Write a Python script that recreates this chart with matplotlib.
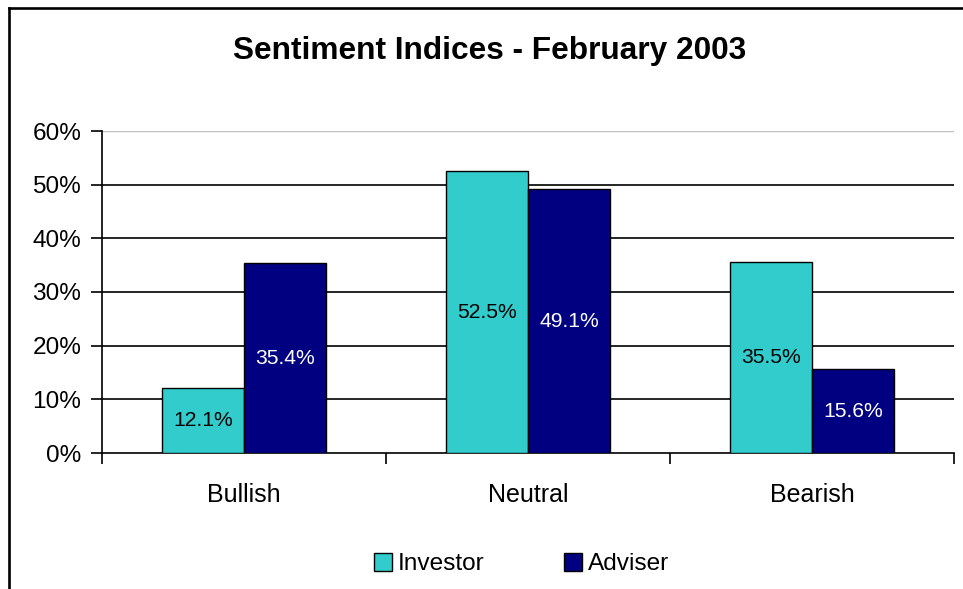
import matplotlib
matplotlib.use("Agg")
import matplotlib.pyplot as plt
import numpy as np
from matplotlib.lines import Line2D

categories = ["Bullish", "Neutral", "Bearish"]
investor = [12.1, 52.5, 35.5]
adviser = [35.4, 49.1, 15.6]
yticks = [0, 10, 20, 30, 40, 50, 60]

plt.rcParams['font.family'] = ['Liberation Sans', 'DejaVu Sans']

W, H = 963, 589
fig = plt.figure(figsize=(W/100, H/100), dpi=100)
ax = fig.add_axes([102/W, 1 - 453/H, (954-102)/W, (453-131)/H])

x = np.arange(len(categories))
bw = 0.288
b1 = ax.bar(x - bw/2, investor, bw, color="#33CCCC", edgecolor="black", linewidth=1.0, label="Investor", zorder=3)
b2 = ax.bar(x + bw/2, adviser, bw, color="#000080", edgecolor="black", linewidth=1.0, label="Adviser", zorder=3)

for rect, v in zip(b1, investor):
    ax.text(rect.get_x() + rect.get_width()/2, v/2, f"{v:.1f}%", ha="center", va="center",
            fontsize=15.2, color="black", zorder=4)
for rect, v in zip(b2, adviser):
    ax.text(rect.get_x() + rect.get_width()/2, v/2, f"{v:.1f}%", ha="center", va="center",
            fontsize=15.2, color="white", zorder=4)

ax.set_xlim(-0.5, 2.5)
ax.set_ylim(0, 60)
ax.set_yticks(yticks)
ax.set_yticklabels([f"{t}%" for t in yticks], fontsize=17.6)
for t in yticks[1:-1]:
    ax.axhline(t, color="black", linewidth=1.2, zorder=1)
ax.axhline(60, color="#c0c0c0", linewidth=1.0, zorder=1)

ax.set_xticks([-0.5, 0.5, 1.5, 2.5], minor=False)
ax.set_xticklabels([])
ax.set_xticks(x, minor=True)
ax.set_xticklabels(categories, minor=True, fontsize=18)
ax.tick_params(axis="x", which="minor", length=0, pad=21.5)
ax.tick_params(axis="x", which="major", direction="out", length=8, width=1.2)
ax.tick_params(axis="y", direction="out", length=8, width=1.2, pad=7)

for s in ["top", "right"]:
    ax.spines[s].set_visible(False)
ax.spines["left"].set_linewidth(1.2)
ax.spines["bottom"].set_linewidth(1.2)

fig.text(490/W, 1 - 50.5/H, "Sentiment Indices - February 2003", ha="center", va="center",
         fontsize=22.8, fontweight="bold")

leg = fig.legend(handles=[b1, b2], labels=["Investor", "Adviser"], loc="center",
                 bbox_to_anchor=(521.5/W, 1 - 564/H), ncol=2, frameon=False, fontsize=17.6,
                 handlelength=0.74, handleheight=0.74, handletextpad=0.25, columnspacing=3.25,
                 borderpad=0, borderaxespad=0)

fig.add_artist(Line2D([8.5/W, 8.5/W], [0, 1 - 7.5/H], transform=fig.transFigure, color="black",
                      linewidth=1.9, solid_capstyle="projecting"))
fig.add_artist(Line2D([8.5/W, 1], [1 - 7.5/H, 1 - 7.5/H], transform=fig.transFigure, color="black",
                      linewidth=1.9, solid_capstyle="projecting"))

fig.savefig("out.png", dpi=100)
